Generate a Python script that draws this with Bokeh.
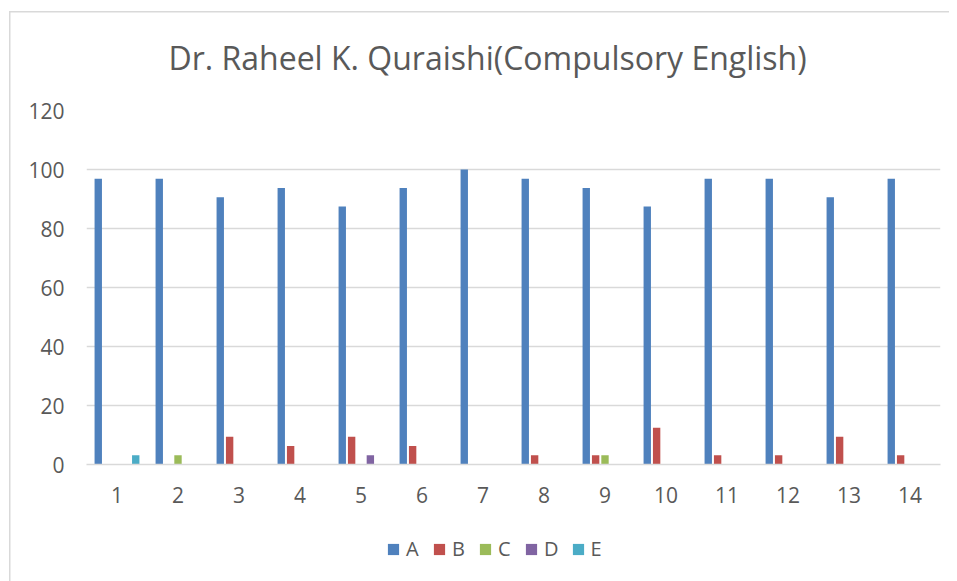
from bokeh.plotting import figure
from bokeh.models import ColumnDataSource, FactorRange, Legend, LegendItem, Range1d
from bokeh.layouts import column
from bokeh.transform import dodge
from bokeh.embed import file_html
from bokeh.resources import INLINE

categories = [str(i) for i in range(1, 15)]
series_names = ["A", "B", "C", "D", "E"]
A = [96.875, 96.875, 90.625, 93.75, 87.5, 93.75, 100, 96.875, 93.75, 87.5, 96.875, 96.875, 90.625, 96.875]
B = [0, 0, 9.375, 6.25, 9.375, 6.25, 0, 3.125, 3.125, 12.5, 3.125, 3.125, 9.375, 3.125]
C = [0, 3.125, 0, 0, 0, 0, 0, 0, 3.125, 0, 0, 0, 0, 0]
D = [0, 0, 0, 0, 3.125, 0, 0, 0, 0, 0, 0, 0, 0, 0]
E = [3.125, 0, 0, 0, 0, 0, 0, 0, 0, 0, 0, 0, 0, 0]
y_ticks = [0, 20, 40, 60, 80, 100, 120]

colors = ["#4F81BD", "#C0504D", "#9BBB59", "#8064A2", "#4BACC6"]
text_color = "#595959"
font = "Open Sans"

source = ColumnDataSource(data=dict(cat=categories, A=A, B=B, C=C, D=D, E=E))

W = 949
p = figure(
    x_range=FactorRange(*categories, range_padding=0),
    y_range=(0, 120),
    width=W, height=530,
    output_backend="svg", toolbar_location=None,
    min_border_left=86, min_border_right=9, min_border_top=110, min_border_bottom=66,
    title="Dr. Raheel K. Quraishi(Compulsory English)",
)
p.outline_line_color = None
p.background_fill_color = "white"
p.border_fill_color = None

p.title.align = "left"
p.title.text_font = font
p.title.text_font_size = "32px"
p.title.text_font_style = "normal"
p.title.text_color = text_color
p.title.standoff = 64
p.title.offset = 82

bar_w = 0.121
step = 0.1536
for k, name in enumerate(series_names):
    p.vbar(x=dodge("cat", (k - 2) * step, range=p.x_range), top=name, width=bar_w,
           source=source, fill_color=colors[k], line_color=None)

p.yaxis.ticker = y_ticks
p.xgrid.grid_line_color = None
p.ygrid.grid_line_color = "#D9D9D9"
p.ygrid.grid_line_width = 1.3

for ax in (p.xaxis, p.yaxis):
    ax.axis_line_color = None
    ax.major_tick_line_color = None
    ax.minor_tick_line_color = None
    ax.major_label_text_color = text_color
    ax.major_label_text_font = font
    ax.major_label_text_font_size = "21px"
p.yaxis.major_label_standoff = 16
p.xaxis.major_label_standoff = 16
p.xaxis.axis_line_color = "#D9D9D9"
p.xaxis.axis_line_width = 1.3

# legend strip below the chart
lg = figure(width=W, height=51, output_backend="svg", toolbar_location=None,
            x_range=Range1d(0, 1), y_range=Range1d(0, 1),
            x_axis_location=None, y_axis_location=None,
            min_border=0)
lg.outline_line_color = None
lg.border_fill_color = None
lg.background_fill_color = None
lg.xgrid.grid_line_color = None
lg.ygrid.grid_line_color = None
items = []
placeholder = ColumnDataSource(data=dict(left=[-2], right=[-1], top=[0], bottom=[0]))
for k, name in enumerate(series_names):
    r = lg.quad(left="left", right="right", top="top", bottom="bottom", source=placeholder,
                fill_color=colors[k], line_color=None)
    items.append(LegendItem(label=name, renderers=[r]))

legend = Legend(items=items, orientation="horizontal", location=(300, 19),
                glyph_width=14, glyph_height=14, label_text_font=font,
                label_text_font_size="20px", label_text_color=text_color,
                label_width=14, spacing=12, label_standoff=6, border_line_color=None,
                background_fill_alpha=0, margin=0, padding=0)
lg.add_layout(legend)

layout = column(p, lg, spacing=0)
layout.styles = {
    "background-image": "linear-gradient(#D9D9D9, #D9D9D9), linear-gradient(#D9D9D9, #D9D9D9)",
    "background-size": "100% 1.5px, 1.5px 100%",
    "background-position": "9px 11px, 9px 11px",
    "background-repeat": "no-repeat",
}
open("out.html", "w").write(file_html(layout, INLINE))
